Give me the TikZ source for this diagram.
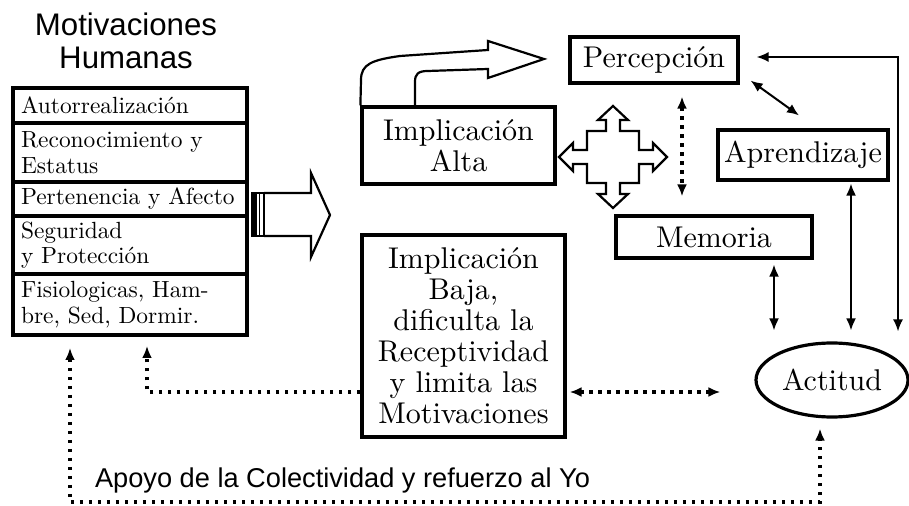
\documentclass[tikz,border=0pt]{standalone}
\usepackage{fontspec}
\setmainfont{lmroman10-regular}[Extension=.otf, BoldFont=lmroman10-bold]
\newfontfamily\sansfam{Liberation Sans}
\usetikzlibrary{positioning,arrows.meta,shapes.geometric}
\newcommand{\NeedSize}{11.7}

\begin{document}
\begin{tikzpicture}[x=0.5pt,y=-0.5pt,
		>={Latex[length=6pt,width=5pt]},
		box/.style={draw, line width=1.6pt, align=center, inner sep=1pt, font=\fontsize{15}{15.5}\selectfont},
		needbox/.style={draw, line width=1.7pt, outer sep=0pt, inner xsep=4pt, inner ysep=1pt, text width=109pt, align=left, font=\fontsize{\NeedSize}{12.8}\selectfont},
		link/.style={line width=1pt, <->},
		dotlink/.style={line width=1.6pt, dash pattern=on 1.6pt off 2.9pt},
		blockarrow/.style={line width=1.1pt, line join=miter}]
	\useasboundingbox (0,0) rectangle (909,506);
	\node[font=\sansfam\fontsize{15.6}{16.5}\selectfont, align=center] (titulo) at (126,40.5) {Motivaciones\\Humanas};
	\node[needbox, minimum height=17.5pt] (autor) at (130,105.5) {Autorrealización};
	\node[needbox, minimum height=29.5pt, below=0pt of autor] (recon) {Reconocimiento y\\Estatus};
	\node[needbox, minimum height=17pt, below=0pt of recon] (perten) {Pertenencia y Afecto};
	\node[needbox, minimum height=29pt, below=0pt of perten] (segur) {Seguridad\\y Protección};
	\node[needbox, minimum height=30.5pt, below=0pt of segur] (fisio) {Fisiologicas, Ham-\\bre, Sed, Dormir.};
	\node[box, minimum width=96.5pt, minimum height=38.5pt] (alta) at (458.5,145.5) {Implicación\\Alta};
	\node[box, minimum width=101.5pt, minimum height=101pt] (baja) at (463.5,336) {Implicación\\Baja,\\dificulta la\\Receptividad\\y limita las\\Motivaciones};
	\node[box, minimum width=84pt, minimum height=23pt] (percep) at (654,60) {Percepción};
	\node[box, minimum width=85pt, minimum height=25pt] (aprend) at (803,155) {Aprendizaje};
	\node[box, minimum width=98pt, minimum height=21pt] (memo) at (714,237) {Memoria};
	\node[box, ellipse, minimum width=76pt, minimum height=37pt, inner sep=0pt] (act) at (832,380) {Actitud};
	\node[font=\sansfam\fontsize{13.6}{16}\selectfont, anchor=base west] (apoyo) at (88,488) {Apoyo de la Colectividad y refuerzo al Yo};
	\coordinate (esquina) at (898,57);
	\coordinate (vuelta) at (70,502);
	\fill (252,193) rectangle (257,236);
	\draw[blockarrow] (252,193) rectangle (264,236);
	\draw[line width=0.8pt] (259.5,193) -- (259.5,236);
	\draw[blockarrow] (264,193) -- (311,193) -- (311,173) -- (330,215) -- (311,257) -- (311,236) -- (264,236);
	\draw[blockarrow] (alta.north west) -- (361,80) .. controls (361,64) and (372,60) .. (400,56) -- (488,50) -- (488,41) -- (544,59) -- (488,78) -- (488,69) -- (428,71) .. controls (418,71) and (415,74) .. (415,82) -- (415,107);
	\draw[blockarrow, shift={(613,157)}] (0,-51) -- (15,-37) -- (7,-37) -- (7,-26) -- (26,-26) -- (26,-7) -- (40,-7) -- (40,-14) -- (54,0) -- (40,14) -- (40,7) -- (26,7) -- (26,26) -- (7,26) -- (7,37) -- (15,37) -- (0,51) -- (-15,37) -- (-7,37) -- (-7,26) -- (-26,26) -- (-26,7) -- (-40,7) -- (-40,14) -- (-54,0) -- (-40,-14) -- (-40,-7) -- (-26,-7) -- (-26,-26) -- (-7,-26) -- (-7,-37) -- (-15,-37) -- cycle;
	\draw[link, line width=0.8pt, shorten <=8.5pt, shorten >=5pt] (percep.east |- esquina) -- (esquina) -- (esquina |- act.north);
	\draw[link] ([xshift=5.5pt,yshift=2pt]percep.south east) -- ([xshift=-2pt,yshift=6.5pt]aprend.north);
	\draw[link, shorten <=2.5pt, shorten >=5.5pt] ([xshift=30pt]memo.south) -- ([xshift=30pt]memo.south |- act.north);
	\draw[link, shorten <=1pt, shorten >=5.5pt] ([xshift=24pt]aprend.south) -- ([xshift=24pt]aprend.south |- act.north);
	\draw[dotlink, <->, shorten <=6pt, shorten >=9pt] ([xshift=14pt]percep.south) -- ([xshift=14pt]percep.south |- memo.north);
	\draw[dotlink, ->, shorten >=5.5pt] ([yshift=-28pt]baja.west) -| ([xshift=8.5pt]fisio.south);
	\draw[dotlink, <->, shorten <=1.5pt, shorten >=17pt] ([yshift=-28pt]baja.east) -- ([yshift=-28pt]baja.east -| act.west);
	\draw[dotlink, <->, shorten <=6.5pt, shorten >=5pt] ([xshift=-30pt]fisio.south) -- (vuelta) -| ([xshift=-6pt]act.south);
\end{tikzpicture}
\end{document}
